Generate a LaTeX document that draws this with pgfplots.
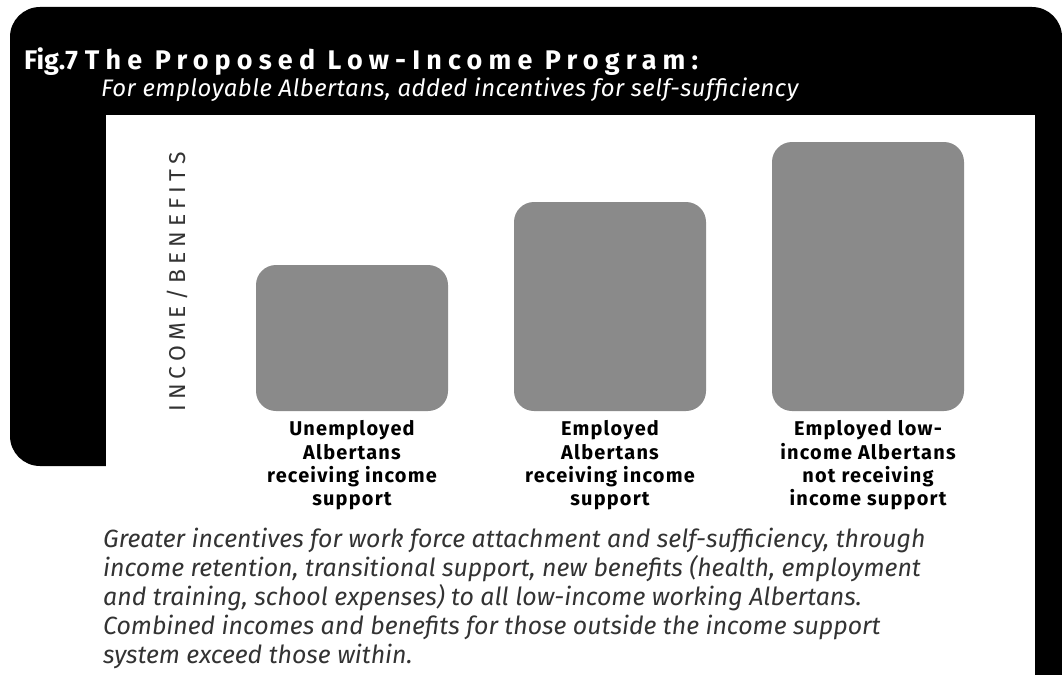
\documentclass[border=0pt]{standalone}
\usepackage{fontspec}
\setmainfont{Fira Sans}
\newfontfamily\titlefont[LetterSpace=23]{Fira Sans}
\newfontfamily\spacedfont[LetterSpace=22]{Fira Sans}
\newfontfamily\labelfont[LetterSpace=6]{Fira Sans}
\newfontfamily\italfont[LetterSpace=2]{Fira Sans}
\usepackage{pgfplots}
\pgfplotsset{compat=1.18}
\definecolor{bargray}{HTML}{8A8A8A}
\definecolor{capgray}{HTML}{333333}

\begin{document}
\begin{tikzpicture}[x=1bp,y=1bp]
% page and black frame
\path[use as bounding box, fill=white] (0,0) rectangle (1062,-675);
\fill[black, rounded corners=30bp] (10,-466) rectangle (1062,-7);
\fill[black] (1000,-300) rectangle (1062,-675);
\fill[white] (106,-115) rectangle (1035,-675);

\node[anchor=base west, white, inner sep=0, font=\fontsize{27}{30}\selectfont\bfseries]
  at (24,-70) {Fig.7\hspace{7bp}{\titlefont\bfseries The Proposed Low-Income Program:}};
\node[anchor=base west, white, inner sep=0, font=\italfont\fontsize{24}{28}\selectfont\itshape]
  at (101,-97) {For employable Albertans, added incentives for self-sufficiency};

\begin{axis}[
    at={(223bp,-411bp)}, anchor=south west,
    scale only axis, width=774bp, height=300bp,
    xmin=-0.5, xmax=2.5, ymin=0, ymax=300,
    axis line style={draw=none},
    major tick length=0pt,
    ytick=\empty,
    xtick=data,
    xticklabels={{Unemployed\\Albertans\\receiving income\\support},
                 {Employed\\Albertans\\receiving income\\support},
                 {Employed low-\\income Albertans\\not receiving\\income support}},
    xticklabel style={align=center, font=\labelfont\fontsize{20}{23.5}\selectfont\bfseries, yshift=-6bp},
    ylabel={INCOME/BENEFITS},
    every axis y label/.style={at={(axis description cs:-0.0594,0.43)}, anchor=center,
        rotate=90, font=\spacedfont\fontsize{23}{26}\selectfont, text=capgray},
    clip=false
    ]
\addplot[ybar, bar width=192bp, fill=bargray, draw=none, rounded corners=20bp]
    coordinates {(0,146) (1,209) (2,269)};
\end{axis}

\node[anchor=north west, inner sep=0, align=left, text=capgray,
      font=\fontsize{25}{29}\selectfont\itshape] at (103,-528)
  {Greater incentives for work force attachment and self-sufficiency, through\\
   income retention, transitional support, new benefits (health, employment\\
   and training, school expenses) to all low-income working Albertans.\\
   Combined incomes and benefits for those outside the income support\\
   system exceed those within.};
\end{tikzpicture}
\end{document}
